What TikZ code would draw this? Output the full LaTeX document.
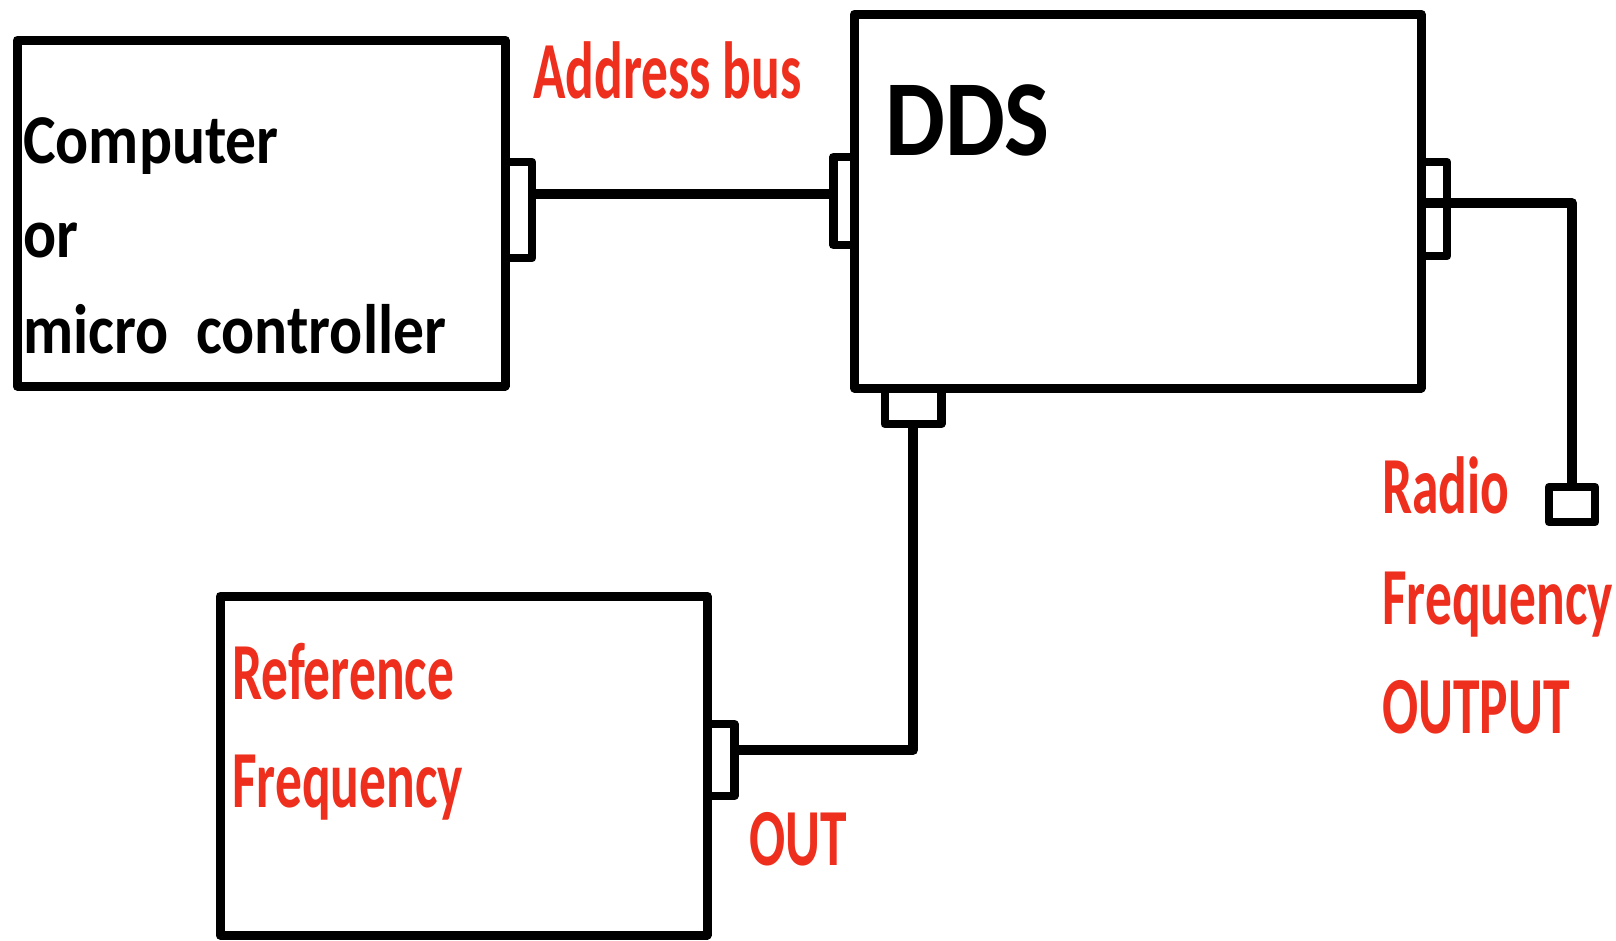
\documentclass[tikz,border=0pt]{standalone}
\usepackage{fontspec}
\usepackage{tikz}
\usetikzlibrary{positioning}
\definecolor{pen}{HTML}{EE2F1E}
\newfontfamily\boxfont[FakeStretch=0.88]{Carlito}
\newfontfamily\notefont[FakeStretch=0.66]{Carlito}

\begin{document}
\begin{tikzpicture}[x=1pt,y=-1pt,
 block/.style={draw,line width=9pt,line join=round,inner sep=0pt,outer sep=0pt,anchor=north west},
 port/.style={draw,line width=8.5pt,line join=round,inner sep=0pt,outer sep=0pt},
 wire/.style={line width=10pt,line join=round},
 txt/.style={inner sep=0pt,anchor=base west,font=\boxfont\bfseries\fontsize{70}{70}\selectfont},
 note/.style={inner sep=0pt,anchor=base west,text=pen,font=\notefont\bfseries\fontsize{81}{81}\selectfont}]
\useasboundingbox (0,0) rectangle (1616,940);
\node[block,minimum width=488pt,minimum height=346pt] (comp) at (17,40) {};
\node[block,minimum width=566.5pt,minimum height=374pt] (dds) at (854.5,14) {};
\node[block,minimum width=487pt,minimum height=339pt] (ref) at (220,596) {};
\node[port,minimum width=26pt,minimum height=96pt] (cport) at (519,210) {};
\node[port,minimum width=21.5pt,minimum height=88pt] (dport) at (844,201) {};
\node[port,minimum width=26pt,minimum height=94pt] (rport) at (1434,209) {};
\node[port,minimum width=56.5pt,minimum height=36pt] (bport) at (913,406) {};
\node[port,minimum width=26.5pt,minimum height=72pt] (fport) at (721,760) {};
\node[port,minimum width=46pt,minimum height=35pt] (ant) at (1572,504.5) {};
\coordinate (busL) at ([yshift=16pt]cport.east);
\draw[wire] (busL) -- (busL -| dport.west);
\draw[wire] ([yshift=6pt]rport.west) -| (ant.north);
\draw[wire] (bport.south) |- ([yshift=10pt]fport.east);
\node[txt] (cpu1) at (23,163) {Computer};
\node[txt] (cpu2) at (23,257) {or};
\node[txt] (cpu3) at (23,353) {micro~~controller};
\node[txt,font=\boxfont\bfseries\fontsize{108}{108}\selectfont] (ddsname) at (885,155) {DDS};
\node[note] (bus) at (533,98) {Address bus};
\node[note] (ref1) at (232,699) {Reference};
\node[note] (ref2) at (232,807) {Frequency};
\node[note] (out) at (749,865) {OUT};
\node[note] (rf1) at (1382,513) {Radio};
\node[note] (rf2) at (1382,624) {Frequency};
\node[note] (rf3) at (1382,733) {OUTPUT};
\end{tikzpicture}
\end{document}
